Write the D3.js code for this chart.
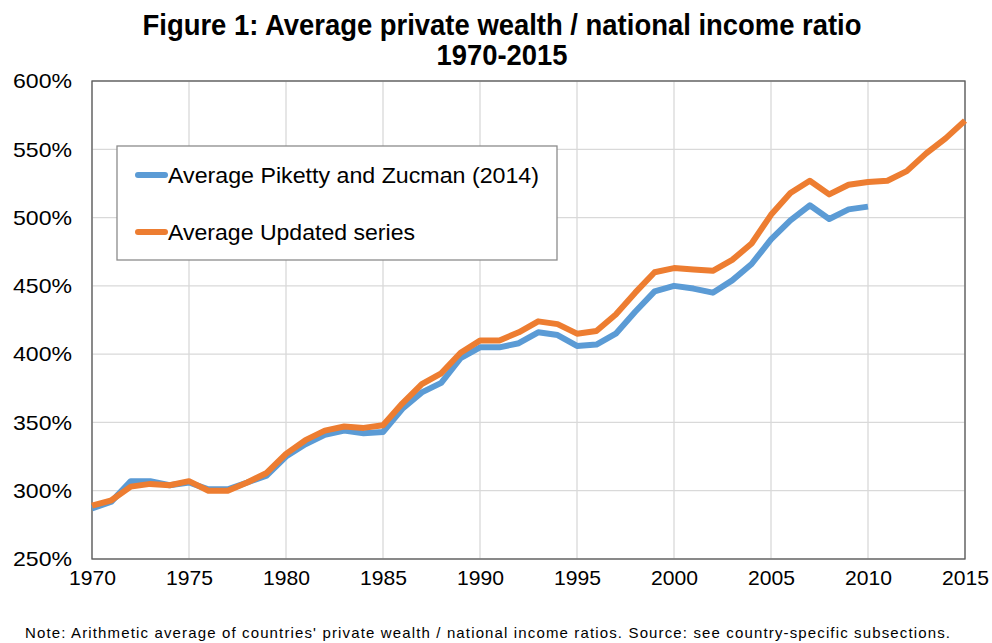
<!DOCTYPE html>
<html><head><meta charset="utf-8">
<script src="https://cdnjs.cloudflare.com/ajax/libs/d3/7.8.5/d3.min.js"></script>
<style>body{margin:0;background:#fff;} svg{display:block;}</style>
</head><body>
<script>
const years = d3.range(1970, 2016);
const pikettyZucman = [287,292,307,307,304,306,301,301,306,311,325,334,341,344,342,343,360,372,379,397,405,405,408,416,414,406,407,415,431,446,450,448,445,454,466,484,498,509,499,506,508];
const updatedSeries = [289,293,303,305,304,307,300,300,306,313,327,337,344,347,346,348,364,378,386,401,410,410,416,424,422,415,417,429,445,460,463,462,461,469,481,502,518,527,517,524,526,527,534,547,558,571];
const yTicks = [250,300,350,400,450,500,550,600];
const xTicks = [1970,1975,1980,1985,1990,1995,2000,2005,2010,2015];
const seriesNames = ["Average Piketty and Zucman (2014)","Average Updated series"];
const colors = ["#5B9BD5","#ED7D31"];

const W = 992, H = 643;
const m = {left: 92, right: 965, top: 81, bottom: 559};
const svg = d3.select("body").append("svg").attr("width", W).attr("height", H);
const x = d3.scaleLinear().domain([1970, 2015]).range([m.left, m.right]);
const y = d3.scaleLinear().domain([250, 600]).range([m.bottom, m.top]);
const ff = "Liberation Sans, Arial, sans-serif";

// gridlines
svg.append("g").selectAll("line").data(yTicks).join("line")
  .attr("x1", m.left).attr("x2", m.right).attr("y1", d => y(d)).attr("y2", d => y(d))
  .attr("stroke", "#d9d9d9").attr("stroke-width", 1.3);
svg.append("g").selectAll("line").data(xTicks).join("line")
  .attr("x1", d => x(d)).attr("x2", d => x(d)).attr("y1", m.top).attr("y2", m.bottom)
  .attr("stroke", "#d9d9d9").attr("stroke-width", 1.3);

// border
svg.append("rect").attr("x", m.left).attr("y", m.top).attr("width", m.right - m.left).attr("height", m.bottom - m.top)
  .attr("fill", "none").attr("stroke", "#595959").attr("stroke-width", 1.3);

// axes labels
const yAxis = d3.axisLeft(y).tickValues(yTicks).tickSize(0).tickPadding(20).tickFormat(d => d + "%");
const gy = svg.append("g").attr("transform", `translate(${m.left},0)`).call(yAxis);
gy.select(".domain").remove();
gy.selectAll("text").attr("font-family", ff).attr("font-size", 21).attr("fill", "#000")
  .attr("textLength", 59).attr("lengthAdjust", "spacingAndGlyphs");

const xAxis = d3.axisBottom(x).tickValues(xTicks).tickSize(0).tickPadding(11).tickFormat(d3.format("d"));
const gx = svg.append("g").attr("transform", `translate(0,${m.bottom})`).call(xAxis);
gx.select(".domain").remove();
gx.selectAll("text").attr("font-family", ff).attr("font-size", 21).attr("fill", "#000")
  .attr("textLength", 47).attr("lengthAdjust", "spacingAndGlyphs");

// lines
const line = d3.line().x((d, i) => x(years[i])).y(d => y(d));
[pikettyZucman, updatedSeries].forEach((s, k) => {
  svg.append("path").datum(s).attr("d", line).attr("fill", "none")
    .attr("stroke", colors[k]).attr("stroke-width", 6).attr("stroke-linejoin", "round");
});

// legend
const legendWidths = [371, 247];
const lg = svg.append("g");
lg.append("rect").attr("x", 117).attr("y", 146).attr("width", 440).attr("height", 114)
  .attr("fill", "#fff").attr("stroke", "#8c8c8c").attr("stroke-width", 1.3);
seriesNames.forEach((n, k) => {
  const yy = 175 + k * 57;
  lg.append("line").attr("x1", 138).attr("x2", 165).attr("y1", yy).attr("y2", yy)
    .attr("stroke", colors[k]).attr("stroke-width", 6).attr("stroke-linecap", "round");
  lg.append("text").attr("x", 168).attr("y", yy + 8).text(n)
    .attr("font-family", ff).attr("font-size", 22).attr("fill", "#000")
    .attr("textLength", legendWidths[k]).attr("lengthAdjust", "spacingAndGlyphs");
});

// title
const tf = "'Liberation Sans Narrow', 'Arial Narrow', 'Liberation Sans', Arial, sans-serif";
svg.append("text").attr("x", 502).attr("y", 35).attr("text-anchor", "middle")
  .attr("font-family", tf).attr("font-weight", "bold").attr("font-size", 29)
  .attr("textLength", 719).attr("lengthAdjust", "spacingAndGlyphs")
  .text("Figure 1: Average private wealth / national income ratio");
svg.append("text").attr("x", 502).attr("y", 65).attr("text-anchor", "middle")
  .attr("font-family", tf).attr("font-weight", "bold").attr("font-size", 29)
  .attr("textLength", 131).attr("lengthAdjust", "spacingAndGlyphs")
  .text("1970-2015");

// note
svg.append("text").attr("x", 25).attr("y", 638)
  .attr("font-family", ff).attr("font-size", 15).attr("fill", "#000")
  .attr("textLength", 925).attr("lengthAdjust", "spacing")
  .text("Note: Arithmetic average of countries' private wealth / national income ratios. Source: see country-specific subsections.");
</script>
</body></html>
